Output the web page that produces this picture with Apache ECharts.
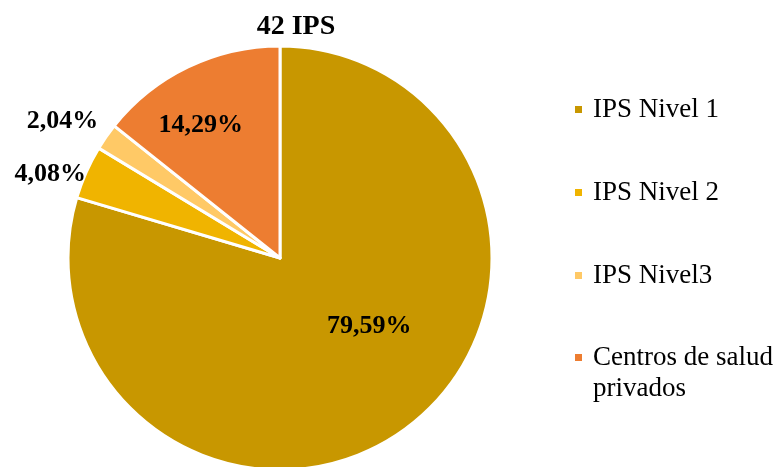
<!DOCTYPE html>
<html>
<head>
<meta charset="utf-8">
<script src="https://cdn.jsdelivr.net/npm/echarts@6/dist/echarts.min.js"></script>
<style>
  html, body { margin: 0; padding: 0; background: #fff; }
  #chart { width: 781px; height: 467px; }
</style>
</head>
<body>
<div id="chart"></div>
<script>
var categories = ['IPS Nivel 1', 'IPS Nivel 2', 'IPS Nivel3', 'Centros de salud\nprivados']
var values = [39, 2, 1, 7]
var percentLabels = ['79,59%', '4,08%', '2,04%', '14,29%']
var colors = ['#C89700', '#F0B400', '#FFC966', '#ED7D31']
// desplazamiento de cada etiqueta respecto a su posicion "inside"
var labelShift = [[24, -19], [-130, -40], [-128, -74], [-32, -35]]

var chart = echarts.init(document.getElementById('chart'))
var serif = '"Liberation Serif", "Times New Roman", serif'

var legendText = {
  fontFamily: serif,
  fontSize: 27,
  lineHeight: 31,
  color: '#000',
  padding: [0, 0, 0, 5]
}

chart.setOption({
  animation: false,
  color: colors,
  title: {
    text: '42 IPS',
    left: 291,
    top: 8,
    textAlign: 'center',
    textStyle: {
      fontFamily: serif,
      fontSize: 28,
      fontWeight: 'bold',
      color: '#000'
    }
  },
  legend: [{
    orient: 'vertical',
    left: 573,
    top: 94,
    padding: 0,
    icon: 'rect',
    itemWidth: 9,
    itemHeight: 9,
    itemGap: 52,
    data: categories.slice(0, 3),
    textStyle: legendText
  }, {
    // ultimo item aparte: el icono va con la primera linea
    orient: 'vertical',
    left: 573,
    top: 311,
    padding: 0,
    icon: 'rect',
    itemWidth: 9,
    itemHeight: 9,
    data: categories.slice(3),
    formatter: function (name) { return '\n' + name },
    textStyle: legendText
  }],
  series: [{
    type: 'pie',
    center: [280, 258],
    radius: 212,
    startAngle: 90,
    clockwise: true,
    avoidLabelOverlap: false,
    itemStyle: { borderColor: '#fff', borderWidth: 3 },
    emphasis: { disabled: true },
    label: {
      show: true,
      position: 'inside',
      formatter: function (p) { return percentLabels[p.dataIndex] },
      fontFamily: serif,
      fontSize: 26,
      fontWeight: 'bold',
      color: '#000'
    },
    labelLine: { show: false },
    labelLayout: function (p) {
      return { dx: labelShift[p.dataIndex][0], dy: labelShift[p.dataIndex][1] }
    },
    data: categories.map(function (name, i) {
      return { name: name, value: values[i] }
    })
  }]
})
</script>
</body>
</html>
